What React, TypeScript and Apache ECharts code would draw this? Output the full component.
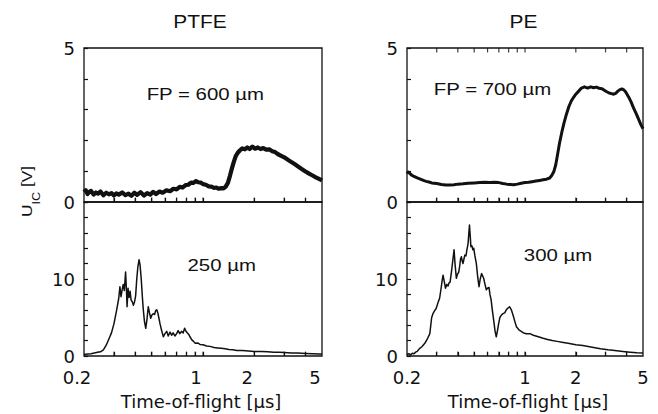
import React, { useEffect, useRef } from "react";
import * as echarts from "echarts";

// ---- axis ticks / labels ----
const xLabelTicks = [0.2, 1, 2, 5];
const xTicks = [0.3, 0.4, 0.5, 0.6, 0.7, 0.8, 0.9, 1, 2, 3, 4];
const topYTicks = [0, 1, 2, 3, 4, 5];
const topYLabels = [0, 5];
const bottomYTicks = [0, 2, 4, 6, 8, 10, 12, 14, 16, 18, 20];
const bottomYLabels = [0, 10];
const panelTitles = ["PTFE", "PE"];
const panelNotes = ["FP = 600 µm", "FP = 700 µm", "250 µm", "300 µm"];
const xName = "Time-of-flight [µs]";

// ---- data: [time-of-flight (µs), U_IC (V)] ----
const ptfeTop = [
  [0.2, 0.32], [0.205, 0.38], [0.21, 0.26], [0.215, 0.33], [0.22, 0.36], [0.228, 0.24], [0.235, 0.31],
  [0.242, 0.27], [0.25, 0.34], [0.26, 0.22], [0.27, 0.3], [0.28, 0.25], [0.29, 0.29], [0.3, 0.21],
  [0.31, 0.28], [0.32, 0.24], [0.335, 0.31], [0.35, 0.22], [0.365, 0.27], [0.38, 0.2], [0.395, 0.3],
  [0.41, 0.23], [0.43, 0.32], [0.45, 0.21], [0.47, 0.29], [0.49, 0.24], [0.51, 0.33], [0.53, 0.26],
  [0.555, 0.34], [0.58, 0.3], [0.61, 0.38], [0.64, 0.35], [0.67, 0.43], [0.7, 0.41], [0.73, 0.49],
  [0.76, 0.47], [0.79, 0.55], [0.82, 0.56], [0.85, 0.63], [0.88, 0.62], [0.91, 0.68], [0.94, 0.64],
  [0.97, 0.63], [1.0, 0.58], [1.04, 0.56], [1.08, 0.51], [1.12, 0.5], [1.16, 0.46], [1.2, 0.47],
  [1.24, 0.43], [1.28, 0.45], [1.32, 0.44], [1.36, 0.5], [1.4, 0.62], [1.44, 0.85], [1.48, 1.1],
  [1.52, 1.32], [1.56, 1.5], [1.6, 1.6], [1.65, 1.68], [1.7, 1.74], [1.76, 1.71], [1.82, 1.77],
  [1.88, 1.72], [1.95, 1.8], [2.02, 1.73], [2.1, 1.77], [2.18, 1.72], [2.26, 1.75], [2.35, 1.7],
  [2.45, 1.71], [2.55, 1.65], [2.65, 1.62], [2.76, 1.55], [2.88, 1.5], [3.0, 1.45], [3.15, 1.37],
  [3.3, 1.3], [3.45, 1.23], [3.6, 1.16], [3.8, 1.07], [4.0, 0.99], [4.2, 0.92], [4.4, 0.86],
  [4.6, 0.8], [4.8, 0.75], [5.0, 0.7],
];

const peTop = [
  [0.2, 0.92], [0.203, 0.97], [0.207, 0.94], [0.212, 0.88], [0.22, 0.83], [0.23, 0.78], [0.24, 0.74],
  [0.25, 0.7], [0.26, 0.67], [0.27, 0.65], [0.28, 0.62], [0.29, 0.61], [0.3, 0.6], [0.32, 0.57],
  [0.34, 0.55], [0.36, 0.55], [0.38, 0.56], [0.4, 0.58], [0.43, 0.59], [0.46, 0.61], [0.5, 0.62],
  [0.54, 0.63], [0.58, 0.64], [0.62, 0.63], [0.66, 0.64], [0.7, 0.63], [0.74, 0.6], [0.78, 0.58],
  [0.82, 0.57], [0.86, 0.56], [0.9, 0.58], [0.95, 0.61], [1.0, 0.63], [1.05, 0.64], [1.1, 0.66],
  [1.16, 0.68], [1.22, 0.7], [1.28, 0.72], [1.34, 0.74], [1.4, 0.78], [1.44, 0.86], [1.48, 0.98],
  [1.52, 1.2], [1.56, 1.55], [1.6, 1.9], [1.65, 2.25], [1.7, 2.55], [1.76, 2.85], [1.82, 3.1],
  [1.88, 3.28], [1.94, 3.4], [2.0, 3.5], [2.08, 3.6], [2.16, 3.7], [2.25, 3.74], [2.35, 3.7],
  [2.45, 3.74], [2.55, 3.71], [2.65, 3.73], [2.75, 3.69], [2.85, 3.68], [2.95, 3.63], [3.05, 3.58],
  [3.15, 3.54], [3.25, 3.52], [3.35, 3.5], [3.45, 3.53], [3.55, 3.6], [3.65, 3.65], [3.75, 3.67],
  [3.85, 3.64], [3.95, 3.57], [4.1, 3.42], [4.25, 3.25], [4.4, 3.05], [4.55, 2.88], [4.7, 2.7],
  [4.85, 2.52], [5.0, 2.38],
];

const ptfeBottom = [
  [0.2, 0.2], [0.21, 0.25], [0.22, 0.3], [0.23, 0.4], [0.24, 0.5], [0.25, 0.55], [0.26, 0.8],
  [0.27, 1.4], [0.28, 2.2], [0.29, 3.0], [0.3, 4.2], [0.31, 5.8], [0.32, 7.5], [0.325, 9.0],
  [0.33, 7.7], [0.335, 8.6], [0.34, 9.3], [0.345, 8.5], [0.351, 10.9], [0.356, 8.0], [0.358, 6.4],
  [0.363, 8.8], [0.368, 7.6], [0.373, 8.4], [0.378, 7.3], [0.385, 7.0], [0.39, 6.6], [0.396, 7.0],
  [0.402, 7.8], [0.408, 9.9], [0.414, 11.5], [0.421, 12.5], [0.427, 11.8], [0.434, 9.9], [0.44, 7.8],
  [0.446, 6.0], [0.453, 4.5], [0.461, 3.6], [0.469, 4.8], [0.477, 6.4], [0.485, 5.6], [0.493, 4.9],
  [0.5, 5.3], [0.51, 5.5], [0.52, 5.4], [0.527, 5.9], [0.535, 6.0], [0.543, 5.6], [0.55, 5.0],
  [0.559, 4.2], [0.57, 3.4], [0.585, 2.5], [0.598, 2.9], [0.612, 3.2], [0.625, 2.6], [0.64, 3.1],
  [0.654, 2.7], [0.668, 3.0], [0.684, 2.6], [0.7, 2.9], [0.715, 3.3], [0.73, 2.9], [0.748, 3.2],
  [0.765, 3.0], [0.78, 3.6], [0.795, 3.2], [0.81, 3.0], [0.825, 2.8], [0.838, 2.5], [0.86, 2.1],
  [0.88, 1.9], [0.9, 1.65], [0.93, 1.7], [0.96, 1.5], [1.0, 1.45], [1.05, 1.3], [1.1, 1.25],
  [1.16, 1.1], [1.22, 1.05], [1.28, 1.0], [1.35, 0.95], [1.42, 0.85], [1.5, 0.8], [1.58, 0.72],
  [1.7, 0.7], [1.85, 0.65], [2.0, 0.6], [2.2, 0.58], [2.4, 0.55], [2.6, 0.5], [2.8, 0.48],
  [3.0, 0.45], [3.3, 0.4], [3.6, 0.38], [4.0, 0.33], [4.4, 0.3], [4.8, 0.27], [5.0, 0.26],
];

const peBottom = [
  [0.2, 0.2], [0.205, 0.3], [0.21, 0.15], [0.215, 0.35], [0.22, 0.3], [0.225, 0.5], [0.23, 0.6],
  [0.238, 1.0], [0.245, 1.2], [0.255, 1.65], [0.265, 2.3], [0.273, 2.9], [0.28, 5.0], [0.285, 5.5],
  [0.29, 5.8], [0.298, 6.2], [0.305, 6.9], [0.312, 7.5], [0.318, 8.7], [0.323, 9.8], [0.327, 10.5],
  [0.333, 9.6], [0.338, 8.8], [0.344, 9.3], [0.35, 9.1], [0.355, 9.5], [0.36, 9.6], [0.367, 11.0],
  [0.374, 12.5], [0.38, 13.8], [0.385, 12.0], [0.392, 10.1], [0.398, 10.6], [0.405, 10.9],
  [0.41, 11.6], [0.415, 12.6], [0.42, 12.9], [0.425, 12.3], [0.429, 12.0], [0.435, 12.6],
  [0.44, 13.1], [0.447, 13.0], [0.453, 13.8], [0.46, 14.6], [0.465, 16.0], [0.469, 17.0],
  [0.474, 15.5], [0.478, 14.2], [0.485, 14.3], [0.491, 13.8], [0.497, 14.0], [0.505, 13.0],
  [0.515, 12.0], [0.525, 10.2], [0.534, 9.0], [0.543, 10.0], [0.553, 10.7], [0.561, 10.4],
  [0.569, 10.1], [0.578, 9.4], [0.59, 8.6], [0.6, 8.8], [0.612, 8.9], [0.62, 8.0], [0.63, 7.3],
  [0.64, 6.0], [0.652, 4.7], [0.665, 3.2], [0.676, 2.5], [0.687, 3.3], [0.698, 4.2], [0.71, 5.0],
  [0.724, 5.3], [0.74, 5.5], [0.758, 5.6], [0.775, 6.0], [0.79, 6.2], [0.81, 6.4], [0.83, 6.0],
  [0.85, 5.3], [0.87, 4.5], [0.89, 3.8], [0.92, 3.4], [0.95, 3.2], [0.98, 3.0], [1.02, 2.9],
  [1.07, 2.9], [1.12, 2.7], [1.2, 2.5], [1.28, 2.3], [1.36, 2.15], [1.45, 2.0], [1.55, 1.9],
  [1.65, 1.8], [1.8, 1.65], [2.0, 1.45], [2.2, 1.35], [2.5, 1.15], [2.8, 0.95], [3.1, 0.8],
  [3.4, 0.7], [3.8, 0.6], [4.2, 0.5], [4.6, 0.42], [5.0, 0.38],
];

const INK = "#111";
const AXIS_FONT = "DejaVu Sans";
const NOTE_FONT = "Liberation Sans";
const X_MIN = Math.log10(0.2);
const X_MAX = Math.log10(5);
const lg = (arr: number[]) => arr.map((v) => Math.log10(v));
const toLog = (pairs: number[][]) => pairs.map(([t, v]) => [Math.log10(t), v]);

function xAxisFor(gridIndex: number, withLabels: boolean, labelPad: number) {
  return {
    type: "value",
    gridIndex,
    min: X_MIN,
    max: X_MAX,
    position: "bottom",
    splitLine: { show: false },
    axisLine: { show: false, onZero: false },
    axisTick: { show: true, inside: true, length: 4, customValues: lg(xTicks), lineStyle: { color: INK, width: 1.2 } },
    axisLabel: withLabels
      ? {
          show: true,
          customValues: lg(xLabelTicks),
          formatter: (v: number) => String(Math.round(Math.pow(10, v) * 10) / 10),
          fontFamily: AXIS_FONT,
          fontSize: 18,
          color: INK,
          margin: 12,
          padding: [0, labelPad, 0, 0],
        }
      : { show: false },
  };
}

function yAxisFor(gridIndex: number, max: number, ticks: number[], labels: number[]) {
  return {
    type: "value",
    gridIndex,
    min: 0,
    max,
    position: "left",
    splitLine: { show: false },
    axisLine: { show: false, onZero: false },
    axisTick: { show: true, inside: true, length: 4, customValues: ticks, lineStyle: { color: INK, width: 1.2 } },
    axisLabel: { show: true, customValues: labels, fontFamily: AXIS_FONT, fontSize: 18, color: INK, margin: 9 },
  };
}

export default function App() {
  const ref = useRef<HTMLDivElement>(null);
  useEffect(() => {
    if (!ref.current) return;
    const chart = echarts.init(ref.current, undefined, { renderer: "svg" });

    const gridBox = { show: true, borderColor: INK, borderWidth: 1.3 };
    const grids = [
      { left: 84, top: 48, width: 238, height: 154, ...gridBox },
      { left: 84, top: 202, width: 238, height: 154, ...gridBox },
      { left: 407, top: 48, width: 236, height: 154, ...gridBox },
      { left: 407, top: 202, width: 236, height: 154, ...gridBox },
    ];

    const xAxis = [
      xAxisFor(0, false, 0),
      xAxisFor(1, true, 14),
      xAxisFor(2, false, 0),
      xAxisFor(3, true, 0),
    ];
    const yAxis = [
      yAxisFor(0, 5, topYTicks, topYLabels),
      yAxisFor(1, 20, bottomYTicks, bottomYLabels),
      yAxisFor(2, 5, topYTicks, topYLabels),
      yAxisFor(3, 20, bottomYTicks, bottomYLabels),
    ];

    const line = (data: number[][], xi: number, yi: number, width: number) => ({
      type: "line",
      xAxisIndex: xi,
      yAxisIndex: yi,
      data: toLog(data),
      symbol: "none",
      lineStyle: { color: INK, width, join: "round" },
      silent: true,
    });

    // inward x tick marks placed through the axis scales (at y = edge value)
    const tickMarks = (gi: number, yEdge: number, dir: number) => ({
      type: "scatter",
      xAxisIndex: gi,
      yAxisIndex: gi,
      data: xTicks.map((t) => [Math.log10(t), yEdge]),
      symbol: "rect",
      symbolSize: [1.2, 4.5],
      symbolOffset: [0, dir * 2.2],
      itemStyle: { color: INK },
      clip: false,
      silent: true,
      z: 5,
    });

    const note = (text: string, x: number, y: number, size: number, sx: number, font: string) => ({
      type: "text",
      x,
      y,
      scaleX: sx,
      silent: true,
      style: {
        text,
        fill: INK,
        fontFamily: font,
        fontSize: size,
        align: "center",
        textAlign: "center",
        verticalAlign: "middle",
        textVerticalAlign: "middle",
      },
    });

    chart.setOption({
      animation: false,
      grid: grids,
      xAxis,
      yAxis,
      series: [
        line(ptfeTop, 0, 0, 4.2),
        line(ptfeBottom, 1, 1, 1.5),
        line(peTop, 2, 2, 3),
        line(peBottom, 3, 3, 1.5),
        tickMarks(0, 0, -1),
        tickMarks(1, 0, -1),
        tickMarks(2, 0, -1),
        tickMarks(2, 5, 1),
        tickMarks(3, 0, -1),
      ],
      graphic: [
        note(panelTitles[0], 200, 21.5, 18, 1.16, NOTE_FONT),
        note(panelTitles[1], 523.5, 21.5, 18, 1.16, NOTE_FONT),
        note(panelNotes[0], 205.3, 94, 17, 1.2, NOTE_FONT),
        note(panelNotes[1], 492.5, 89, 17, 1.2, NOTE_FONT),
        note(panelNotes[2], 221.7, 265, 17, 1.2, NOTE_FONT),
        note(panelNotes[3], 558, 255, 17, 1.2, NOTE_FONT),
        note(xName, 201, 401.5, 18, 1, AXIS_FONT),
        note(xName, 528, 401.5, 18, 1, AXIS_FONT),
        {
          type: "text",
          x: 26.7,
          y: 191.5,
          rotation: Math.PI / 2,
          scaleX: 1.15,
          silent: true,
          style: {
            text: "{u|U}{s|IC}{u| [V]}",
            fill: INK,
            fontFamily: NOTE_FONT,
            fontSize: 15,
            align: "center",
            textAlign: "center",
            verticalAlign: "middle",
            textVerticalAlign: "middle",
            rich: {
              u: { fontFamily: NOTE_FONT, fontSize: 15, lineHeight: 30, verticalAlign: "middle", fill: INK },
              s: { fontFamily: NOTE_FONT, fontSize: 11, lineHeight: 11, verticalAlign: "bottom", fill: INK },
            },
          },
        },
      ],
    });

    return () => chart.dispose();
  }, []);

  return (
    <div
      ref={ref}
      style={{ position: "absolute", left: 0, top: 0, width: 658, height: 414, background: "#fff" }}
    />
  );
}
